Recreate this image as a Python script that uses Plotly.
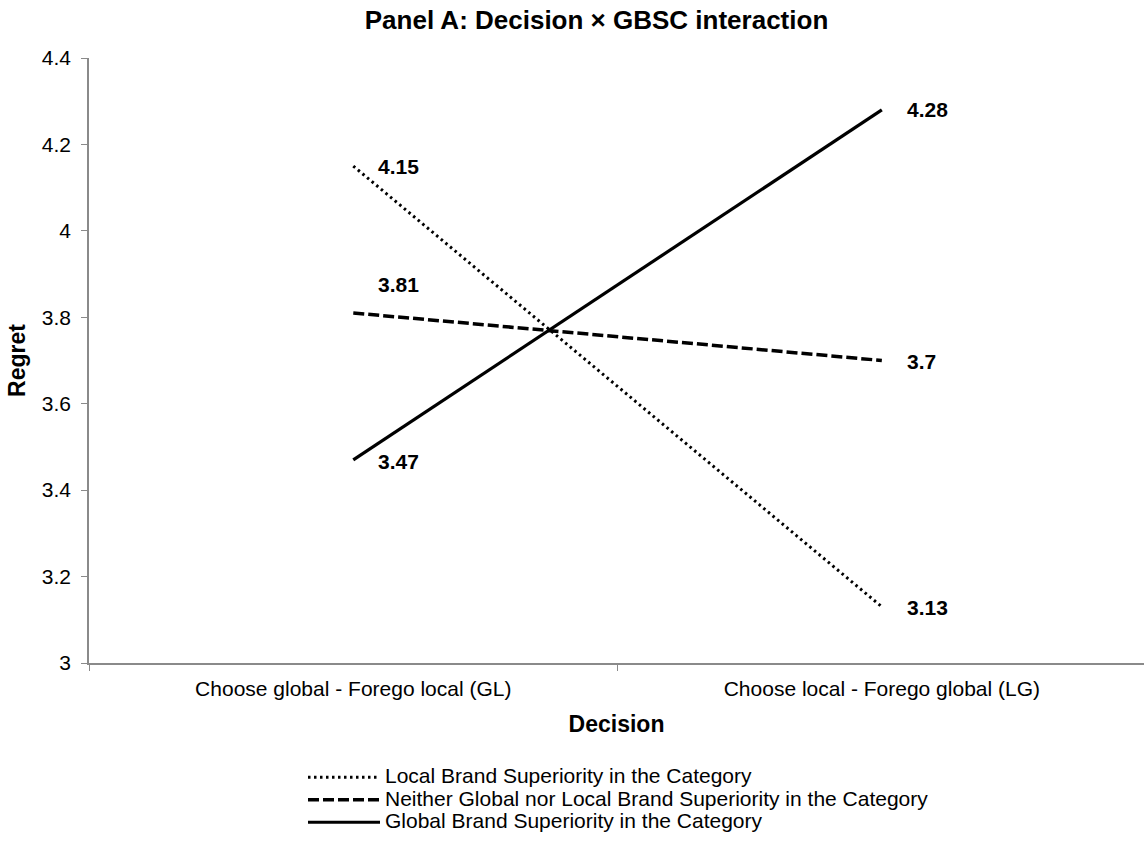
import plotly.graph_objects as go

categories = ["Choose global - Forego local (GL)", "Choose local - Forego global (LG)"]
series_names = [
    "Local Brand Superiority in the Category",
    "Neither Global nor Local Brand Superiority in the Category",
    "Global Brand Superiority in the Category",
]
local_vals = [4.15, 3.13]
neither_vals = [3.81, 3.70]
global_vals = [3.47, 4.28]
label_texts = [["4.15", "3.13"], ["3.81", "3.7"], ["3.47", "4.28"]]
y_ticks = [3, 3.2, 3.4, 3.6, 3.8, 4, 4.2, 4.4]

FONT = "Liberation Sans, Arial, sans-serif"
values = [local_vals, neither_vals, global_vals]
dashes = ["2.5px,3.5px", "11px,4px", "solid"]
widths = [3, 3.5, 3.2]

fig = go.Figure()
for name, vals, dash, w in zip(series_names, values, dashes, widths):
    fig.add_trace(go.Scatter(
        x=categories, y=vals, mode="lines",
        name="<span style='font-size:21px'>%s</span>" % name,
        line=dict(color="black", width=w, dash=dash),
    ))

# data labels
yshifts = [[0, -1], [28, -1], [-2, 0]]
for vals, texts, ys in zip(values, label_texts, yshifts):
    for c, v, t, s in zip(categories, vals, texts, ys):
        fig.add_annotation(
            x=c, y=v, text="<b>%s</b>" % t, showarrow=False,
            xanchor="left", yanchor="middle", xshift=23, yshift=s,
            font=dict(family=FONT, size=21, color="black"),
        )

fig.update_layout(
    width=1144, height=847,
    paper_bgcolor="white", plot_bgcolor="white",
    margin=dict(l=89, r=0, t=58, b=184, autoexpand=False),
    font=dict(family=FONT, size=21, color="black"),
    title=dict(
        text="<b>Panel A: Decision × GBSC interaction</b>",
        x=596.5 / 1144, xanchor="center", y=1 - 20 / 847, yanchor="middle",
        font=dict(family=FONT, size=26, color="black"),
    ),
    showlegend=True,
    legend=dict(
        x=(303 - 89) / 1055, y=-(761 - 663) / 605, xanchor="left", yanchor="top",
        orientation="v", bgcolor="rgba(0,0,0,0)",
        font=dict(family=FONT, size=15, color="black"),
        tracegroupgap=0, itemwidth=72,
    ),
)
fig.update_xaxes(
    type="category", range=[-0.5, 1.496],
    showline=True, linecolor="#8a8a8a", linewidth=1.6,
    ticks="outside", tickson="boundaries", ticklen=6, tickcolor="#8a8a8a",
    ticklabelstandoff=6,
    showgrid=False, zeroline=False, tickangle=0,
    tickfont=dict(family=FONT, size=21, color="black"),
    title=dict(text="<b>Decision</b>", font=dict(family=FONT, size=23, color="black"), standoff=17),
)
fig.update_yaxes(
    range=[3, 4.4], tickvals=y_ticks,
    showline=True, linecolor="#8a8a8a", linewidth=1.6,
    ticks="outside", ticklen=6, tickcolor="#8a8a8a", ticklabelstandoff=6,
    showgrid=False, zeroline=False,
    tickfont=dict(family=FONT, size=21, color="black"),
    title=dict(text="<b>Regret</b>", font=dict(family=FONT, size=23, color="black"), standoff=10),
)

fig.write_html(
    "out.html",
    config={"displayModeBar": False},
    post_script="document.body.style.margin='0';document.body.style.overflow='hidden';",
)
